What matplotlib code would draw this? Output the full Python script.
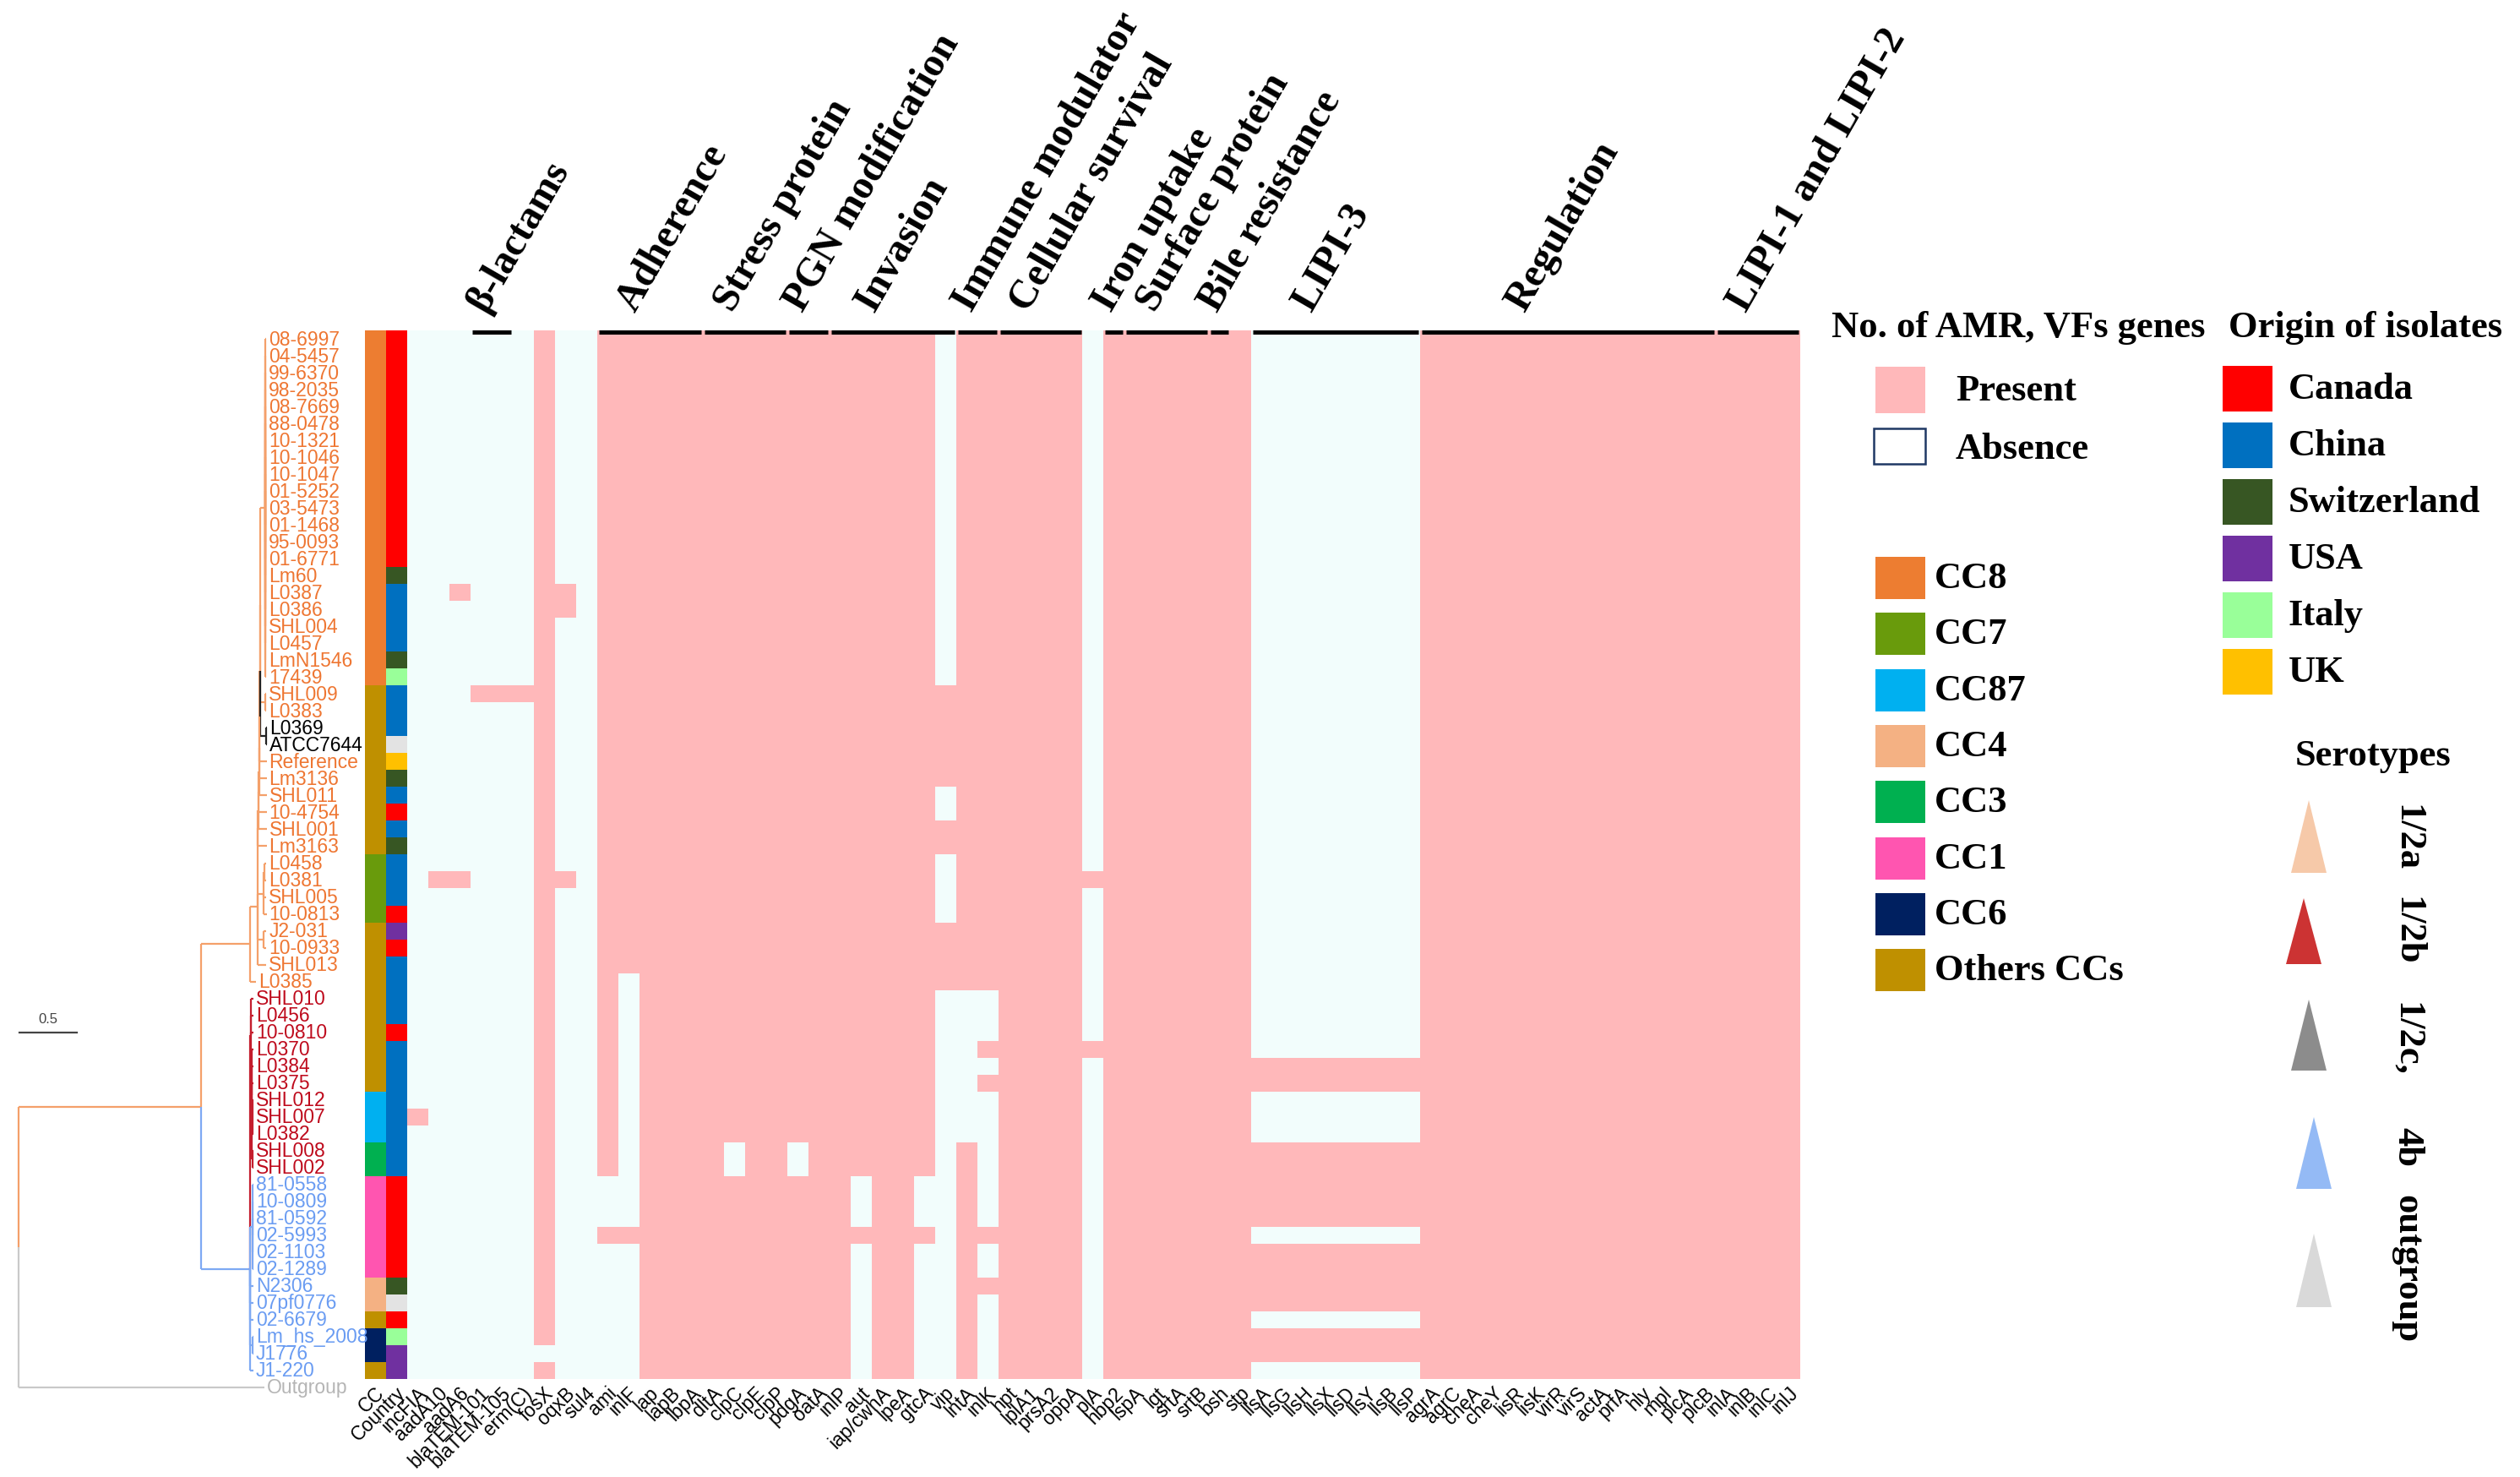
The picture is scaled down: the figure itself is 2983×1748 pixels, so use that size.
import numpy as np
import matplotlib
matplotlib.use("Agg")
import matplotlib.pyplot as plt
from matplotlib.patches import Rectangle, Polygon
from matplotlib.colors import to_rgb
from matplotlib.transforms import ScaledTranslation

W, H = 2983, 1749

# ------------------------------------------------------------------ data
isolates = ["08-6997", "04-5457", "99-6370", "98-2035", "08-7669", "88-0478", "10-1321",
            "10-1046", "10-1047", "01-5252", "03-5473", "01-1468", "95-0093", "01-6771",
            "Lm60", "L0387", "L0386", "SHL004", "L0457", "LmN1546", "17439", "SHL009",
            "L0383", "L0369", "ATCC7644", "Reference", "Lm3136", "SHL011", "10-4754",
            "SHL001", "Lm3163", "L0458", "L0381", "SHL005", "10-0813", "J2-031", "10-0933",
            "SHL013", "L0385", "SHL010", "L0456", "10-0810", "L0370", "L0384", "L0375",
            "SHL012", "SHL007", "L0382", "SHL008", "SHL002", "81-0558", "10-0809",
            "81-0592", "02-5993", "02-1103", "02-1289", "N2306", "07pf0776", "02-6679",
            "Lm_hs_2008", "J1776", "J1-220"]

cc_group = (["CC8"] * 21 + ["Others"] * 10 + ["CC7"] * 4 + ["Others"] * 10 + ["CC87"] * 3
            + ["CC3"] * 2 + ["CC1"] * 6 + ["CC4"] * 2 + ["Others"] + ["CC6"] * 2 + ["Others"])

country = (["Canada"] * 14 + ["Switzerland", "China", "China", "China", "China", "Switzerland",
            "Italy", "China", "China", "China", "Unknown", "UK", "Switzerland", "China", "Canada",
            "China", "Switzerland", "China", "China", "China", "Canada", "USA", "Canada",
            "China", "China", "China", "China", "Canada"] + ["China"] * 8 + ["Canada"] * 6
           + ["Switzerland", "Unknown", "Canada", "Italy", "USA", "USA"])

serotype = ["1/2a"] * 23 + ["1/2c"] * 2 + ["1/2a"] * 14 + ["1/2b"] * 11 + ["4b"] * 12

genes = ["incFIA", "aadA10", "aadA6", "blaTEM-101", "blaTEM-105", "erm(C)", "fosX", "oqxB",
         "sul4", "ami", "inlF", "lap", "lapB", "lbpA", "dltA", "clpC", "clpE", "clpP", "pdgA",
         "oatA", "inlP", "aut", "iap/cwhA", "lpeA", "gtcA", "vip", "lntA", "inlK", "hpt",
         "lplA1", "prsA2", "oppA", "plA", "hbp2", "lspA", "lgt", "srtA", "srtB", "bsh", "stp",
         "llsA", "llsG", "llsH", "llsX", "llsD", "llsY", "llsB", "llsP", "agrA", "agrC",
         "cheA", "cheY", "lisR", "lisK", "virR", "virS", "actA", "prfA", "hly", "mpl", "plcA",
         "plcB", "inlA", "inlB", "inlC", "inlJ"]

# presence (1) / absence (0) per isolate, gene order as above (spaces only for readability)
presence = [
    "000000100 1111111111111111011 111101111111 00000000 111111111111111111",  # 08-6997
    "000000100 1111111111111111011 111101111111 00000000 111111111111111111",  # 04-5457
    "000000100 1111111111111111011 111101111111 00000000 111111111111111111",  # 99-6370
    "000000100 1111111111111111011 111101111111 00000000 111111111111111111",  # 98-2035
    "000000100 1111111111111111011 111101111111 00000000 111111111111111111",  # 08-7669
    "000000100 1111111111111111011 111101111111 00000000 111111111111111111",  # 88-0478
    "000000100 1111111111111111011 111101111111 00000000 111111111111111111",  # 10-1321
    "000000100 1111111111111111011 111101111111 00000000 111111111111111111",  # 10-1046
    "000000100 1111111111111111011 111101111111 00000000 111111111111111111",  # 10-1047
    "000000100 1111111111111111011 111101111111 00000000 111111111111111111",  # 01-5252
    "000000100 1111111111111111011 111101111111 00000000 111111111111111111",  # 03-5473
    "000000100 1111111111111111011 111101111111 00000000 111111111111111111",  # 01-1468
    "000000100 1111111111111111011 111101111111 00000000 111111111111111111",  # 95-0093
    "000000100 1111111111111111011 111101111111 00000000 111111111111111111",  # 01-6771
    "000000100 1111111111111111011 111101111111 00000000 111111111111111111",  # Lm60
    "001000110 1111111111111111011 111101111111 00000000 111111111111111111",  # L0387
    "000000110 1111111111111111011 111101111111 00000000 111111111111111111",  # L0386
    "000000100 1111111111111111011 111101111111 00000000 111111111111111111",  # SHL004
    "000000100 1111111111111111011 111101111111 00000000 111111111111111111",  # L0457
    "000000100 1111111111111111011 111101111111 00000000 111111111111111111",  # LmN1546
    "000000100 1111111111111111011 111101111111 00000000 111111111111111111",  # 17439
    "000111100 1111111111111111111 111101111111 00000000 111111111111111111",  # SHL009
    "000000100 1111111111111111111 111101111111 00000000 111111111111111111",  # L0383
    "000000100 1111111111111111111 111101111111 00000000 111111111111111111",  # L0369
    "000000100 1111111111111111111 111101111111 00000000 111111111111111111",  # ATCC7644
    "000000100 1111111111111111111 111101111111 00000000 111111111111111111",  # Reference
    "000000100 1111111111111111111 111101111111 00000000 111111111111111111",  # Lm3136
    "000000100 1111111111111111011 111101111111 00000000 111111111111111111",  # SHL011
    "000000100 1111111111111111011 111101111111 00000000 111111111111111111",  # 10-4754
    "000000100 1111111111111111111 111101111111 00000000 111111111111111111",  # SHL001
    "000000100 1111111111111111111 111101111111 00000000 111111111111111111",  # Lm3163
    "000000100 1111111111111111011 111101111111 00000000 111111111111111111",  # L0458
    "011000110 1111111111111111011 111111111111 00000000 111111111111111111",  # L0381
    "000000100 1111111111111111011 111101111111 00000000 111111111111111111",  # SHL005
    "000000100 1111111111111111011 111101111111 00000000 111111111111111111",  # 10-0813
    "000000100 1111111111111111111 111101111111 00000000 111111111111111111",  # J2-031
    "000000100 1111111111111111111 111101111111 00000000 111111111111111111",  # 10-0933
    "000000100 1111111111111111111 111101111111 00000000 111111111111111111",  # SHL013
    "000000100 1011111111111111111 111101111111 00000000 111111111111111111",  # L0385
    "000000100 1011111111111111000 111101111111 00000000 111111111111111111",  # SHL010
    "000000100 1011111111111111000 111101111111 00000000 111111111111111111",  # L0456
    "000000100 1011111111111111000 111101111111 00000000 111111111111111111",  # 10-0810
    "000000100 1011111111111111001 111111111111 00000000 111111111111111111",  # L0370
    "000000100 1011111111111111000 111101111111 11111111 111111111111111111",  # L0384
    "000000100 1011111111111111001 111101111111 11111111 111111111111111111",  # L0375
    "000000100 1011111111111111000 111101111111 00000000 111111111111111111",  # SHL012
    "100000100 1011111111111111000 111101111111 00000000 111111111111111111",  # SHL007
    "000000100 1011111111111111000 111101111111 00000000 111111111111111111",  # L0382
    "000000100 1011110110111111010 111101111111 11111111 111111111111111111",  # SHL008
    "000000100 1011110110111111010 111101111111 11111111 111111111111111111",  # SHL002
    "000000100 0011111111110110010 111101111111 11111111 111111111111111111",  # 81-0558
    "000000100 0011111111110110010 111101111111 11111111 111111111111111111",  # 10-0809
    "000000100 0011111111110110010 111101111111 11111111 111111111111111111",  # 81-0592
    "000000100 1111111111111111011 111101111111 00000000 111111111111111111",  # 02-5993
    "000000100 0011111111110110010 111101111111 11111111 111111111111111111",  # 02-1103
    "000000100 0011111111110110010 111101111111 11111111 111111111111111111",  # 02-1289
    "000000100 0011111111110110011 111101111111 11111111 111111111111111111",  # N2306
    "000000100 0011111111110110010 111101111111 11111111 111111111111111111",  # 07pf0776
    "000000100 0011111111110110010 111101111111 00000000 111111111111111111",  # 02-6679
    "000000100 0011111111110110010 111101111111 11111111 111111111111111111",  # Lm_hs_2008
    "000000000 0011111111110110010 111101111111 11111111 111111111111111111",  # J1776
    "000000100 0011111111110110010 111101111111 00000000 111111111111111111",  # J1-220
]

# gene categories shown above the heatmap (first gene, last gene)
categories = ["\u03b2-lactams", "Adherence", "Stress protein", "PGN modification", "Invasion",
              "Immune modulator", "Cellular survival", "Iron uptake", "Surface protein",
              "Bile resistance", "LIPI-3", "Regulation", "LIPI-1 and LIPI-2"]
cat_first = ["blaTEM-101", "ami", "dltA", "pdgA", "inlP", "lntA", "hpt", "hbp2", "lspA",
             "bsh", "llsA", "agrA", "inlA"]
cat_last = ["blaTEM-105", "lbpA", "clpP", "oatA", "vip", "inlK", "oppA", "hbp2", "srtB",
            "bsh", "llsP", "plcB", "inlJ"]

# phylogeny (Newick, branch lengths in substitutions/site)
newick = (
    "(((((((((((("
    "(08-6997:0.008,04-5457:0.008,99-6370:0.008,98-2035:0.008,08-7669:0.008,88-0478:0.008,"
    "10-1321:0.008,10-1046:0.008,10-1047:0.008,01-5252:0.008,03-5473:0.008,01-1468:0.008,"
    "95-0093:0.008,01-6771:0.008,Lm60:0.008,L0387:0.008,L0386:0.008,SHL004:0.008,"
    "L0457:0.008,LmN1546:0.008,17439:0.008):0.042,"
    "(SHL009:0.01,L0383:0.01):0.042):0.003,"
    "(L0369:0.008,ATCC7644:0.008):0.05):0.003,"
    "Reference:0.059):0.003,"
    "Lm3136:0.062):0.003,"
    "SHL011:0.065):0.003,"
    "10-4754:0.068):0.003,"
    "SHL001:0.071):0.003,"
    "Lm3163:0.074):0.003,"
    "((L0458:0.015,L0381:0.015):0.01,SHL005:0.025,10-0813:0.027):0.05,"
    "(J2-031:0.025,10-0933:0.025):0.05,"
    "SHL013:0.075):0.066,"
    "L0385:0.05):0.426,"
    "((SHL010:0.02,L0456:0.02,10-0810:0.02,"
    "(L0370:0.015,L0384:0.015,L0375:0.015,(SHL012:0.01,SHL007:0.01,L0382:0.01):0.005,"
    "(SHL008:0.01,SHL002:0.01):0.005):0.005):0.01,"
    "(81-0558:0.01,10-0809:0.01,81-0592:0.01,02-5993:0.01,02-1103:0.01,02-1289:0.01):0.02,"
    "N2306:0.03,07pf0776:0.03,02-6679:0.03,(Lm_hs_2008:0.01,J1776:0.01):0.02,"
    "J1-220:0.03):0.426):1.576,"
    "Outgroup:2.127);"
)

assert len(isolates) == len(cc_group) == len(country) == len(serotype) == len(presence) == 62
pres = np.array([[int(c) for c in row.replace(" ", "")] for row in presence])
assert pres.shape == (62, len(genes))

# ------------------------------------------------------------------ styles
cc_colors = {"CC8": "#ED7D31", "CC7": "#699B0C", "CC87": "#00B0F0", "CC4": "#F4B183",
             "CC3": "#00B050", "CC1": "#FF55B0", "CC6": "#002060", "Others": "#BF9000"}
country_colors = {"Canada": "#FF0000", "China": "#0070C0", "Switzerland": "#375623",
                  "USA": "#7030A0", "Italy": "#99FF99", "UK": "#FFC000", "Unknown": "#E3E3E3"}
present_col = "#FFB8BA"
absent_col = "#F2FDFC"
line_cols = {"1/2a": "#F4A06A", "1/2b": "#C41E2E", "4b": "#7EA9F3", "1/2c": "#222222",
             "outgroup": "#C9C9C9"}
label_cols = {"1/2a": "#EE7632", "1/2b": "#BE0A1C", "4b": "#6A9CF2", "1/2c": "#000000",
              "outgroup": "#B5B5B5"}
SERIF = ["Liberation Serif", "DejaVu Serif"]
SANS = ["Liberation Sans", "DejaVu Sans"]

fig = plt.figure(figsize=(W / 100, H / 100), dpi=100)
fig.patch.set_facecolor("white")


def box(x0, y0, x1, y1):
    return [x0 / W, 1 - y1 / H, (x1 - x0) / W, (y1 - y0) / H]


# ------------------------------------------------------------------ heatmap
HX0, HX1, HY0, HY1 = 432, 2131, 392, 1633
ax_h = fig.add_axes(box(HX0, HY0, HX1, HY1))
ncol = 2 + len(genes)
img = np.zeros((62, ncol, 3))
for i in range(62):
    img[i, 0] = to_rgb(cc_colors[cc_group[i]])
    img[i, 1] = to_rgb(country_colors[country[i]])
    for j in range(len(genes)):
        img[i, 2 + j] = to_rgb(present_col if pres[i, j] else absent_col)
ax_h.imshow(img, extent=(-0.5, ncol - 0.5, 62.5, 0.5), aspect="auto", interpolation="nearest")
ax_h.set_xlim(-0.5, ncol - 0.5)
ax_h.set_ylim(62.5, 0.5)
ax_h.set_yticks([])
ax_h.set_xticks(range(ncol))
ax_h.set_xticklabels(["CC", "Country"] + genes, rotation=45, ha="right", va="center",
                     rotation_mode="anchor", fontsize=16.5, family=SANS)
ax_h.tick_params(axis="x", length=0, pad=9)
shift = ScaledTranslation(7 / 100, 0, fig.dpi_scale_trans)
for lab in ax_h.get_xticklabels():
    lab.set_transform(lab.get_transform() + shift)
for s in ax_h.spines.values():
    s.set_visible(False)

# category bars and titles
for name, g0, g1 in zip(categories, cat_first, cat_last):
    c0 = 2 + genes.index(g0) - 0.5 + 0.08
    c1 = 2 + genes.index(g1) + 0.5 - 0.08
    ax_h.plot([c0, c1], [0.6, 0.6], color="black", lw=3.6, solid_capstyle="butt",
              clip_on=False, zorder=5)
    ax_h.text(c0 + 0.35 * (c1 - c0), -0.55, name, rotation=60, rotation_mode="anchor",
              ha="left", va="baseline", fontsize=34.5, fontweight="bold", family=SERIF,
              color="black")

# ------------------------------------------------------------------ tree
ax_t = fig.add_axes(box(0, HY0, HX0, HY1 + 20))
PX_PER_UNIT = 136.7
ax_t.set_xlim(-22.3 / PX_PER_UNIT, (HX0 - 22.3) / PX_PER_UNIT)
ax_t.set_ylim(63.5, 0.5)
ax_t.axis("off")


def parse_newick(s):
    s = s.replace(" ", "").strip()
    pos = [0]

    def node():
        children = []
        if s[pos[0]] == "(":
            pos[0] += 1
            children.append(node())
            while s[pos[0]] == ",":
                pos[0] += 1
                children.append(node())
            pos[0] += 1  # ')'
        st = pos[0]
        while s[pos[0]] not in ":,();":
            pos[0] += 1
        name = s[st:pos[0]]
        bl = 0.0
        if s[pos[0]] == ":":
            pos[0] += 1
            st = pos[0]
            while s[pos[0]] not in ",();":
                pos[0] += 1
            bl = float(s[st:pos[0]])
        return {"name": name, "children": children, "bl": bl}

    return node()


tree = parse_newick(newick)
row_of = {n: i + 1 for i, n in enumerate(isolates)}
row_of["Outgroup"] = 63
group_of = {n: serotype[i] for i, n in enumerate(isolates)}
group_of["Outgroup"] = "outgroup"


def layout(nd, x0):
    nd["x"] = x0 + nd["bl"]
    if not nd["children"]:
        nd["y"] = row_of[nd["name"]]
        nd["groups"] = [group_of[nd["name"]]]
    else:
        for c in nd["children"]:
            layout(c, nd["x"])
        nd["y"] = np.mean([c["y"] for c in nd["children"]])
        nd["groups"] = sum((c["groups"] for c in nd["children"]), [])
    gs = nd["groups"]
    nd["group"] = max(sorted(set(gs)), key=gs.count)


layout(tree, 0.0)


def draw(nd):
    for c in nd["children"]:
        col = line_cols[c["group"]]
        ax_t.plot([nd["x"], nd["x"]], [nd["y"], c["y"]], color=col, lw=1.6,
                  solid_capstyle="butt")
        ax_t.plot([nd["x"], c["x"]], [c["y"], c["y"]], color=col, lw=1.6,
                  solid_capstyle="butt")
        draw(c)
    if not nd["children"]:
        ax_t.text(nd["x"] + 3 / PX_PER_UNIT, nd["y"], nd["name"], ha="left", va="center",
                  fontsize=16.5, family=SANS, color=label_cols[nd["group"]], clip_on=False)


draw(tree)

# ------------------------------------------------------------------ overlay (scale bar, legends)
ov = fig.add_axes([0, 0, 1, 1])
ov.set_xlim(0, W)
ov.set_ylim(H, 0)
ov.axis("off")
ov.patch.set_alpha(0)

ov.plot([22.7, 22.7 + 0.5 * PX_PER_UNIT], [1223, 1223], color="#444444", lw=1.6)
ov.text(22.7 + 0.25 * PX_PER_UNIT, 1214, "0.5", ha="center", va="bottom", fontsize=12,
        family=SANS, color="#444444")

LEG = dict(fontsize=32, family=SERIF, fontweight="bold", color="black")

ov.text(2168, 388, "No. of AMR, VFs genes", ha="left", va="center", **LEG)
ov.add_patch(Rectangle((2220, 435), 59, 55, facecolor=present_col, edgecolor="none"))
ov.text(2315, 463, "Present", ha="left", va="center", **LEG)
ov.add_patch(Rectangle((2218, 508), 61, 42, facecolor="white", edgecolor="#1F3864", lw=1.8))
ov.text(2315, 532, "Absence", ha="left", va="center", **LEG)

cc_legend = ["CC8", "CC7", "CC87", "CC4", "CC3", "CC1", "CC6", "Others"]
cc_legend_text = ["CC8", "CC7", "CC87", "CC4", "CC3", "CC1", "CC6", "Others CCs"]
for k, (c, t) in enumerate(zip(cc_legend, cc_legend_text)):
    yc = 685 + k * 66.3
    ov.add_patch(Rectangle((2220, yc - 25), 59, 50, facecolor=cc_colors[c], edgecolor="none"))
    ov.text(2290, yc, t, ha="left", va="center", **LEG)

ov.text(2638, 388, "Origin of isolates", ha="left", va="center", **LEG)
countries_legend = ["Canada", "China", "Switzerland", "USA", "Italy", "UK"]
for k, c in enumerate(countries_legend):
    yc = 461 + k * 67
    ov.add_patch(Rectangle((2631, yc - 27), 59, 54, facecolor=country_colors[c],
                           edgecolor="none"))
    ov.text(2709, yc, c, ha="left", va="center", **LEG)

ov.text(2809, 895, "Serotypes", ha="center", va="center", **LEG)
sero_legend = ["1/2a", "1/2b", "1/2c,", "4b", "outgroup"]
sero_cols = ["#F6C9A9", "#CC3333", "#8C8C8C", "#94BAF5", "#D9D9D9"]
tri = [(948, 1034), (1064, 1142), (1184, 1268), (1323, 1408), (1461, 1548)]
tri_x = [2733, 2727, 2733, 2739, 2739]
lab_y = [992, 1102, 1230, 1358, 1502]
for t, c, (ya, yb), xc, ly in zip(sero_legend, sero_cols, tri, tri_x, lab_y):
    ov.add_patch(Polygon([(xc, ya), (xc - 21, yb), (xc + 21, yb)], closed=True,
                         facecolor=c, edgecolor="none"))
    ov.text(2849, ly, t, ha="center", va="center", rotation=-90, rotation_mode="anchor",
            **LEG)

fig.savefig("out.png", dpi=100)
